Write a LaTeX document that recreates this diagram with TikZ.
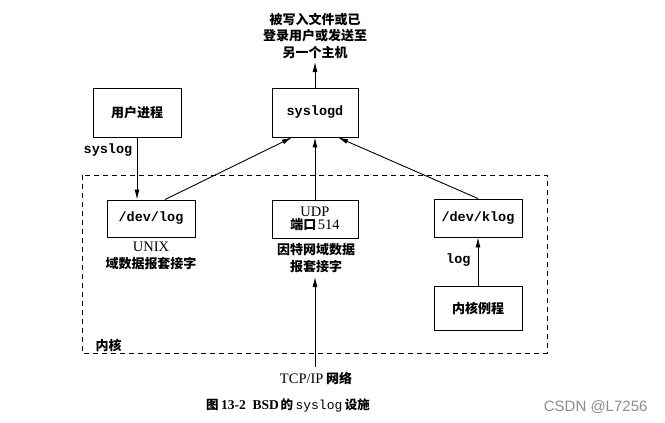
\documentclass[tikz,border=0pt]{standalone}
\usepackage{fontspec}
\setmainfont{Liberation Serif}
\setmonofont{Liberation Mono}
\setsansfont{Liberation Sans}
\newfontfamily\cjk{Noto Sans CJK SC}
\usetikzlibrary{arrows.meta}
\newcommand{\cjt}{\cjk\bfseries\fontsize{13}{16}\selectfont}
\newcommand{\rmt}{\rmfamily\fontsize{14.5}{16}\selectfont}
\begin{document}
\begin{tikzpicture}[x=1pt,y=-1pt,
  box/.style={draw, line width=0.9pt, inner sep=0pt},
  conn/.style={line width=0.9pt, -{Latex[length=10pt,width=5pt]}},
  cj/.style={font=\cjt},
  mono/.style={font=\ttfamily\bfseries\fontsize{13.5}{16}\selectfont},
  rm/.style={font=\rmt},
  kernel/.style={draw, line width=0.9pt, dash pattern=on 5pt off 4pt}]
\useasboundingbox (0,0) rectangle (665,423);

% kernel region
\draw[kernel] (82,175) rectangle (547,353);
\node[cj, anchor=west] (kern) at (92,345) {内核};

% boxes
\node[box, minimum width=88pt, minimum height=49pt, cj] (user) at (137,112.5) {用户进程};
\node[box, minimum width=86pt, minimum height=49pt, mono] (syslogd) at (315,112.5) {syslogd};
\node[box, minimum width=88pt, minimum height=37pt, mono] (devlog) at (151,218.5) {/dev/log};
\node[box, minimum width=86pt, minimum height=38pt, align=center, inner sep=0pt] (udp) at (315,219)
  {\rmt UDP\\[1pt]{\cjt 端口}\,{\rmt 514}};
\node[box, minimum width=88pt, minimum height=38pt, mono] (klog) at (478,218) {/dev/klog};
\node[box, minimum width=88pt, minimum height=44pt, cj] (kr) at (478,308) {内核例程};

% labels
\node[align=center, font=\cjk\bfseries\fontsize{13}{16.5}\selectfont, anchor=south] (dest) at (315,62)
  {被写入文件或已\\登录用户或发送至\\另一个主机};
\node[mono] (syslbl) at (108,150) {syslog};
\node[rm] (unix) at (151,247) {UNIX};
\node[cj] (unixd) at (151,264) {域数据报套接字};
\node[cj] (inet1) at (316,250) {因特网域数据};
\node[cj] (inet2) at (316,267) {报套接字};
\node[mono, anchor=east] (loglbl) at (474,260) {log};
\node[anchor=north] (tcp) at (316,369)
  {{\rmt TCP/IP} {\cjt 网络}};
\node (cap) at (288,405)
  {{\cjk\bfseries\fontsize{12.5}{16}\selectfont 图} {\rmfamily\bfseries\fontsize{13.5}{16}\selectfont 13-2\enspace BSD}\,{\cjk\bfseries\fontsize{12.5}{16}\selectfont 的} {\ttfamily\fontsize{13}{16}\selectfont syslog} {\cjk\bfseries\fontsize{12.5}{16}\selectfont 设施}};
\node[text=black!45, font=\sffamily\fontsize{15}{17}\selectfont, anchor=east] (wm) at (651,407) {CSDN @L7256};

% connectors
\coordinate (tcpTop) at (315,367);
\coordinate (inetTip) at (315,277);
\draw[conn] (syslogd.north) -- (dest.south);
\draw[conn] (user.south) -- (user.south |- devlog.north);
\draw[conn] ([xshift=14pt]devlog.north) -- ([xshift=-23pt]syslogd.south);
\draw[conn] (udp.north) -- (syslogd.south);
\draw[conn] (klog.north) -- ([xshift=23pt]syslogd.south);
\draw[conn] (kr.north) -- (klog.south);
\draw[conn] (tcpTop) -- (inetTip);
\end{tikzpicture}
\end{document}
